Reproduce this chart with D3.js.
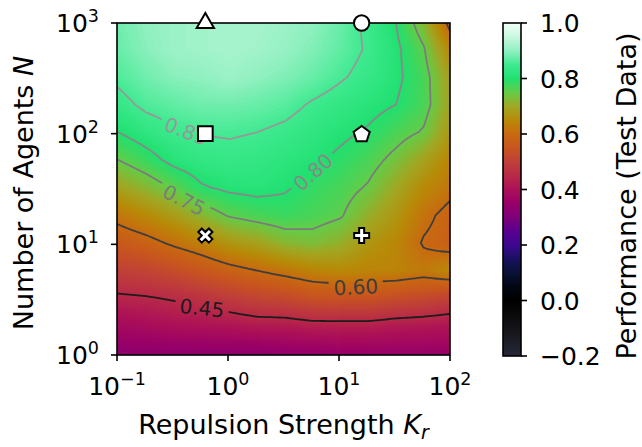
<!DOCTYPE html>
<html>
<head>
<meta charset="utf-8">
<script src="https://cdn.jsdelivr.net/npm/d3@7"></script>
<style>
  body { margin: 0; background: #fff; }
  text { font-family: "DejaVu Sans", sans-serif; fill: #000; }
</style>
</head>
<body>
<svg id="chart" width="642" height="447"></svg>
<script>
// grid positions (log10 of repulsion strength and of agent count)
const logKr = [-1, -0.75, -0.5, -0.25, 0, 0.25, 0.5, 0.75, 1, 1.25, 1.5, 1.75, 2];
const logN = [0, 0.25, 0.5, 0.75, 1, 1.25, 1.5, 1.75, 2, 2.25, 2.5, 2.75, 3];

// performance, one row per logN value (bottom row first)
const perf = [
  [0.33, 0.33, 0.33, 0.33, 0.33, 0.33, 0.34, 0.34, 0.35, 0.35, 0.35, 0.35, 0.35],
  [0.38, 0.39, 0.40, 0.405, 0.41, 0.42, 0.42, 0.43, 0.43, 0.43, 0.42, 0.415, 0.41],
  [0.44, 0.445, 0.455, 0.47, 0.49, 0.51, 0.52, 0.54, 0.545, 0.545, 0.53, 0.52, 0.50],
  [0.50, 0.51, 0.53, 0.555, 0.58, 0.60, 0.62, 0.64, 0.65, 0.64, 0.64, 0.625, 0.65],
  [0.56, 0.58, 0.61, 0.635, 0.67, 0.69, 0.72, 0.73, 0.71, 0.67, 0.645, 0.595, 0.575],
  [0.62, 0.65, 0.68, 0.72, 0.755, 0.77, 0.78, 0.77, 0.755, 0.71, 0.67, 0.615, 0.58],
  [0.69, 0.72, 0.755, 0.795, 0.81, 0.815, 0.805, 0.785, 0.77, 0.745, 0.70, 0.65, 0.615],
  [0.75, 0.78, 0.815, 0.83, 0.835, 0.83, 0.82, 0.81, 0.79, 0.77, 0.735, 0.69, 0.64],
  [0.80, 0.825, 0.845, 0.852, 0.855, 0.85, 0.84, 0.825, 0.81, 0.795, 0.77, 0.745, 0.67],
  [0.835, 0.86, 0.87, 0.88, 0.88, 0.875, 0.865, 0.845, 0.83, 0.815, 0.80, 0.77, 0.69],
  [0.86, 0.88, 0.895, 0.90, 0.91, 0.90, 0.89, 0.875, 0.855, 0.835, 0.81, 0.77, 0.68],
  [0.875, 0.895, 0.91, 0.915, 0.92, 0.915, 0.905, 0.89, 0.87, 0.845, 0.81, 0.755, 0.64],
  [0.88, 0.90, 0.91, 0.915, 0.92, 0.92, 0.91, 0.90, 0.875, 0.84, 0.80, 0.72, 0.57]
];

const contourLevels = [0.45, 0.60, 0.75, 0.80, 0.85];
const contourColors = ['#1c1c1c', '#3e3e3e', '#7c7c7c', '#888888', '#989898'];

// where the inline contour labels sit
const labelLevel = [0.45, 0.60, 0.75, 0.80, 0.85];
const labelKr = [0.583, 14.2, 0.402, 5.83, 0.419];
const labelN = [2.66, 4.12, 25.2, 45, 105.6];
const labelAngle = [6, -3, 27, -42, 21];

// settings marked in the chart
const markKr = [0.625, 16, 0.625, 16, 0.625, 16];
const markN = [1000, 1000, 100, 100, 12, 12];
const markShape = ['triangle', 'circle', 'square', 'pentagon', 'x', 'plus'];

const xTicks = [0.1, 1, 10, 100];
const yTicks = [1, 10, 100, 1000];
const cbTicks = [-0.2, 0, 0.2, 0.4, 0.6, 0.8, 1.0];

// colormap stops
const cmapVals = [-0.2, -0.1, 0, 0.05, 0.1, 0.15, 0.2, 0.25, 0.3, 0.35, 0.4, 0.45, 0.5,
  0.55, 0.6, 0.65, 0.7, 0.75, 0.8, 0.85, 0.9, 0.95, 1.0];
const cmapCols = ['#262838', '#141418', '#000000', '#030612', '#081235', '#1a1060', '#3c0890',
  '#5a0090', '#7e0078', '#980068', '#ac1058', '#b82a48', '#c04038', '#c85520', '#c86a10',
  '#b88a08', '#a0a824', '#64cc48', '#20e070', '#40ea90', '#90f0c0', '#c8f8e0', '#f2fff8'];

const color = d3.scaleLinear().domain(cmapVals).range(cmapCols).interpolate(d3.interpolateRgb).clamp(true);

const svg = d3.select('#chart');
const pLeft = 117, pRight = 450, pTop = 23, pBottom = 355;
const x = d3.scaleLog().domain([0.1, 100]).range([pLeft, pRight]);
const y = d3.scaleLog().domain([1, 1000]).range([pBottom, pTop]);

// bilinear lookup in the read grid
function sample(lk, ln) {
  const s = 0.25;
  const fx = Math.max(0, Math.min(logKr.length - 1, (lk - logKr[0]) / s));
  const fy = Math.max(0, Math.min(logN.length - 1, (ln - logN[0]) / s));
  const i = Math.min(Math.floor(fx), logKr.length - 2);
  const j = Math.min(Math.floor(fy), logN.length - 2);
  const tx = fx - i, ty = fy - j;
  const a = perf[j][i], b = perf[j][i + 1], c = perf[j + 1][i], d = perf[j + 1][i + 1];
  return (a * (1 - tx) + b * tx) * (1 - ty) + (c * (1 - tx) + d * tx) * ty;
}

const step = 0.025, pad = 2;
const nx = Math.round((logKr[logKr.length - 1] - logKr[0]) / step) + 1 + 2 * pad;
const ny = Math.round((logN[logN.length - 1] - logN[0]) / step) + 1 + 2 * pad;
const lk0 = logKr[0] - pad * step, ln0 = logN[0] - pad * step;
const field = new Array(nx * ny);
for (let j = 0; j < ny; j++) {
  for (let i = 0; i < nx; i++) {
    field[j * nx + i] = sample(lk0 + i * step, ln0 + j * step);
  }
}

const proj = d3.geoTransform({
  point: function(gx, gy) {
    this.stream.point(x(Math.pow(10, lk0 + gx * step)), y(Math.pow(10, ln0 + gy * step)));
  }
});
const path = d3.geoPath(proj);

const defs = svg.append('defs');
defs.append('clipPath').attr('id', 'plotclip')
  .append('rect').attr('x', pLeft).attr('y', pTop).attr('width', pRight - pLeft).attr('height', pBottom - pTop);

// heatmap as stacked filled contours
const fillStep = 0.004;
const fillLevels = d3.range(0.30, 0.95, fillStep);
const heat = svg.append('g').attr('clip-path', 'url(#plotclip)');
heat.append('rect').attr('x', pLeft).attr('y', pTop).attr('width', pRight - pLeft).attr('height', pBottom - pTop)
  .attr('fill', color(fillLevels[0]));
heat.selectAll('path.band')
  .data(d3.contours().size([nx, ny]).thresholds(fillLevels)(field))
  .enter().append('path')
  .attr('class', 'band')
  .attr('d', path)
  .attr('fill', (d) => color(d.value + fillStep / 2))
  .attr('stroke', (d) => color(d.value + fillStep / 2))
  .attr('stroke-width', 0.3);

// mask that opens gaps for the inline labels
const mask = defs.append('mask').attr('id', 'lblmask').attr('maskUnits', 'userSpaceOnUse')
  .attr('x', 0).attr('y', 0).attr('width', 642).attr('height', 447);
mask.append('rect').attr('width', 642).attr('height', 447).attr('fill', '#fff');
labelKr.forEach((k, i) => {
  mask.append('rect')
    .attr('x', -27).attr('y', -10).attr('width', 54).attr('height', 20)
    .attr('fill', '#000')
    .attr('transform', `translate(${x(k)},${y(labelN[i])}) rotate(${labelAngle[i]})`);
});

const lines = svg.append('g').attr('clip-path', 'url(#plotclip)');
lines.append('g').attr('mask', 'url(#lblmask)')
  .selectAll('path')
  .data(d3.contours().size([nx, ny]).thresholds(contourLevels)(field))
  .enter().append('path')
  .attr('d', path)
  .attr('fill', 'none')
  .attr('stroke', (d, i) => contourColors[i])
  .attr('stroke-width', 1.8)
  .attr('stroke-linejoin', 'round');

const levelFmt = d3.format('.2f');
labelKr.forEach((k, i) => {
  const lvl = labelLevel[i];
  svg.append('text')
    .attr('transform', `translate(${x(k)},${y(labelN[i])}) rotate(${labelAngle[i]})`)
    .attr('text-anchor', 'middle')
    .attr('dy', '0.36em')
    .attr('font-size', 20)
    .style('fill', contourColors[contourLevels.indexOf(lvl)])
    .text(levelFmt(lvl));
});

// frame
svg.append('rect').attr('x', pLeft).attr('y', pTop).attr('width', pRight - pLeft).attr('height', pBottom - pTop)
  .attr('fill', 'none').attr('stroke', '#000').attr('stroke-width', 1.6);

// axes ticks and labels
const fs = 25, sup = 17.5, lfs = 27;
xTicks.forEach((v) => {
  svg.append('line').attr('x1', x(v)).attr('x2', x(v)).attr('y1', pBottom).attr('y2', pBottom + 6)
    .attr('stroke', '#000').attr('stroke-width', 1.6);
  const t = svg.append('text').attr('x', x(v)).attr('y', 395).attr('text-anchor', 'middle').attr('font-size', fs);
  t.append('tspan').text('10');
  t.append('tspan').attr('font-size', sup).attr('dy', -10).text(String(Math.round(Math.log10(v))).replace('-', '\u2212'));
});
yTicks.forEach((v) => {
  svg.append('line').attr('x1', pLeft - 6).attr('x2', pLeft).attr('y1', y(v)).attr('y2', y(v))
    .attr('stroke', '#000').attr('stroke-width', 1.6);
  const t = svg.append('text').attr('x', 99).attr('y', y(v) + 9).attr('text-anchor', 'end').attr('font-size', fs);
  t.append('tspan').text('10');
  t.append('tspan').attr('font-size', sup).attr('dy', -10).text(String(Math.round(Math.log10(v))));
});

const xl = svg.append('text').attr('x', (pLeft + pRight) / 2).attr('y', 434).attr('text-anchor', 'middle').attr('font-size', lfs);
xl.append('tspan').text('Repulsion Strength ');
xl.append('tspan').attr('font-style', 'italic').text('K');
xl.append('tspan').attr('font-style', 'italic').attr('font-size', lfs * 0.7).attr('dy', 5).text('r');

const yl = svg.append('text').attr('transform', 'translate(33,193) rotate(-90)')
  .attr('text-anchor', 'middle').attr('font-size', lfs);
yl.append('tspan').text('Number of Agents ');
yl.append('tspan').attr('font-style', 'italic').text('N');

// markers
const symbols = {
  triangle: d3.symbol().type(d3.symbolTriangle).size(130)(),
  circle: d3.symbol().type(d3.symbolCircle).size(185)(),
  square: d3.symbol().type(d3.symbolSquare).size(215)(),
  pentagon: d3.line()(d3.range(5).map((k) => {
    const a = -Math.PI / 2 + k * 2 * Math.PI / 5;
    return [8.5 * Math.cos(a), 8.5 * Math.sin(a) + 0.8];
  })) + 'Z',
  plus: 'M-2.5,-7.5H2.5V-2.5H7.5V2.5H2.5V7.5H-2.5V2.5H-7.5V-2.5H-2.5Z'
};
svg.selectAll('path.mark')
  .data(markShape)
  .enter().append('path')
  .attr('class', 'mark')
  .attr('d', (s) => s === 'x' ? symbols.plus : symbols[s])
  .attr('transform', (s, i) => `translate(${x(markKr[i])},${y(markN[i])})` + (s === 'x' ? ' rotate(45)' : ''))
  .attr('fill', '#fff')
  .attr('stroke', '#000')
  .attr('stroke-width', 2)
  .attr('stroke-linejoin', 'miter');

// colorbar
const cbL = 503, cbR = 521;
const cy = d3.scaleLinear().domain([-0.2, 1.0]).range([356, 23]);
const grad = defs.append('linearGradient').attr('id', 'cbgrad')
  .attr('x1', 0).attr('y1', 1).attr('x2', 0).attr('y2', 0);
cmapVals.forEach((v, i) => {
  grad.append('stop').attr('offset', (v + 0.2) / 1.2).attr('stop-color', cmapCols[i]);
});
svg.append('rect').attr('x', cbL).attr('y', cy(1.0)).attr('width', cbR - cbL).attr('height', cy(-0.2) - cy(1.0))
  .attr('fill', 'url(#cbgrad)').attr('stroke', '#000').attr('stroke-width', 1.6);
const cbFmt = d3.format('.1f');
cbTicks.forEach((v) => {
  svg.append('line').attr('x1', cbR).attr('x2', cbR + 6).attr('y1', cy(v)).attr('y2', cy(v))
    .attr('stroke', '#000').attr('stroke-width', 1.6);
  svg.append('text').attr('x', 540).attr('y', cy(v) + 9).attr('font-size', fs).text(cbFmt(v));
});
svg.append('text').attr('transform', 'translate(636,196) rotate(-90)')
  .attr('text-anchor', 'middle').attr('font-size', lfs).text('Performance (Test Data)');
</script>
</body>
</html>
